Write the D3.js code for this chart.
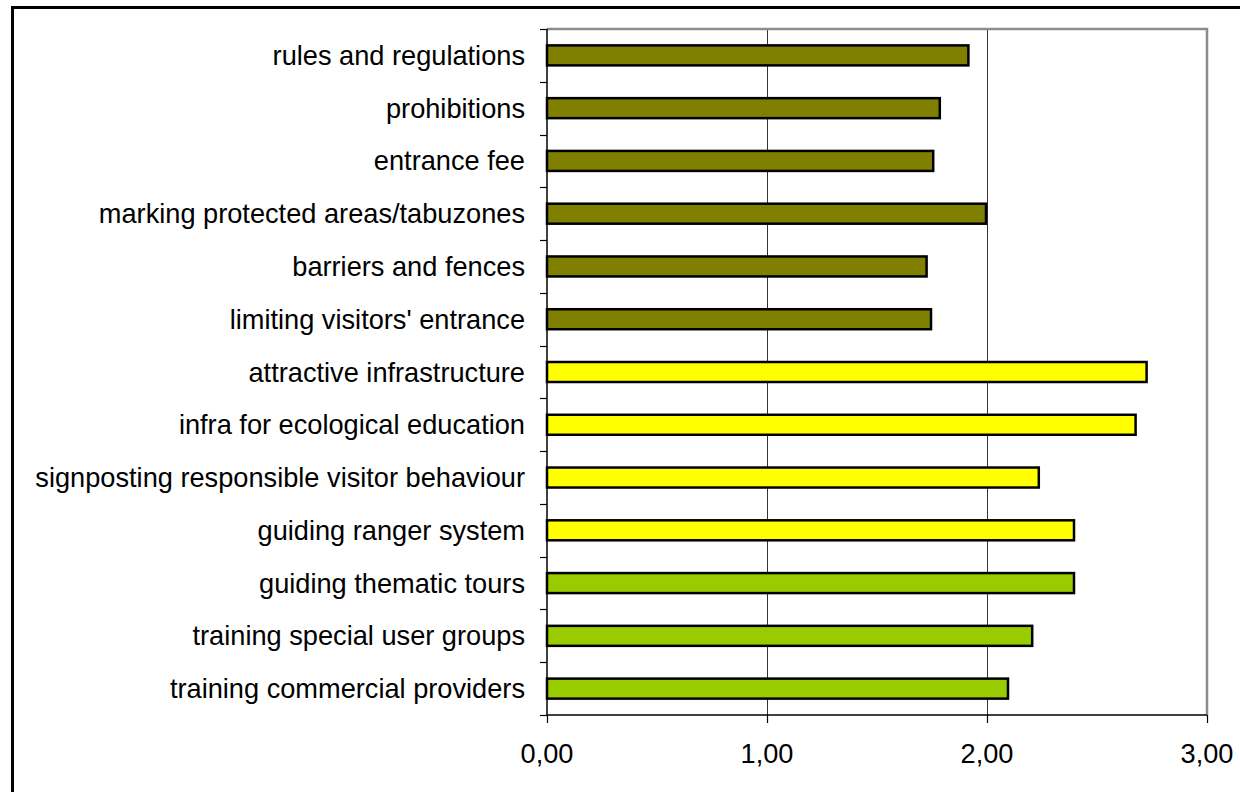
<!DOCTYPE html>
<html>
<head>
<meta charset="utf-8">
<script src="https://cdn.jsdelivr.net/npm/d3@7"></script>
<style>
  html, body { margin: 0; padding: 0; background: #fff; overflow: hidden; }
  svg { display: block; font-family: "Liberation Sans", Arial, sans-serif; }
</style>
</head>
<body>
<svg id="chart" width="1240" height="792"></svg>
<script>
// ---- data ----
const categories = [
  "rules and regulations",
  "prohibitions",
  "entrance fee",
  "marking protected areas/tabuzones",
  "barriers and fences",
  "limiting visitors' entrance",
  "attractive infrastructure",
  "infra for ecological education",
  "signposting responsible visitor behaviour",
  "guiding ranger system",
  "guiding thematic tours",
  "training special user groups",
  "training commercial providers"
];
const values = [1.92, 1.79, 1.76, 2.00, 1.73, 1.75, 2.73, 2.68, 2.24, 2.40, 2.40, 2.21, 2.10];
const groups = ["restriction","restriction","restriction","restriction","restriction","restriction",
  "infrastructure","infrastructure","infrastructure","infrastructure",
  "education","education","education"];
const groupNames = ["restriction", "infrastructure", "education"];
const xTicks = [0, 1, 2, 3];

// ---- layout ----
const svg = d3.select("#chart");
const pLeft = 547, pRight = 1207, pTop = 29, pBottom = 715;

const x = d3.scaleLinear().domain([0, 3]).range([pLeft, pRight]);
const y = d3.scaleBand().domain(categories).range([pTop, pBottom]).paddingInner(0).paddingOuter(0);
const color = d3.scaleOrdinal().domain(groupNames).range(["#808000", "#FFFF00", "#99CC00"]);
const fmt = v => d3.format(".2f")(v).replace(".", ",");

// outer border
svg.append("rect")
  .attr("x", 12.5).attr("y", 7.5)
  .attr("width", 1260).attr("height", 820)
  .attr("fill", "none").attr("stroke", "#000").attr("stroke-width", 3);

// gridlines
svg.append("g").selectAll("line")
  .data(xTicks.filter(d => d > 0 && d < 3))
  .join("line")
  .attr("x1", d => Math.round(x(d)) + 0.5).attr("x2", d => Math.round(x(d)) + 0.5)
  .attr("y1", pTop).attr("y2", pBottom)
  .attr("stroke", "#333").attr("stroke-width", 1);

// plot frame top/right (gray)
svg.append("path")
  .attr("d", `M${pLeft},${pTop} H${pRight} V${pBottom}`)
  .attr("fill", "none").attr("stroke", "#8c8c8c").attr("stroke-width", 2.5);

// bars
const bh = 20;
svg.append("g").selectAll("rect")
  .data(categories.map((c, i) => ({c, v: values[i], g: groups[i]})))
  .join("rect")
  .attr("x", x(0))
  .attr("y", d => y(d.c) + y.bandwidth() / 2 - bh / 2)
  .attr("width", d => x(d.v) - x(0) - 1)
  .attr("height", bh)
  .attr("fill", d => color(d.g))
  .attr("stroke", "#000").attr("stroke-width", 2.5);

// y axis
const yAxis = svg.append("g").attr("transform", `translate(${pLeft},0)`);
yAxis.append("line").attr("x1", 0).attr("x2", 0).attr("y1", pTop).attr("y2", pBottom)
  .attr("stroke", "#000").attr("stroke-width", 1.5);
const bounds = categories.map(c => y(c)).concat([pBottom]);
yAxis.selectAll("line.tk").data(bounds).join("line").attr("class", "tk")
  .attr("x1", -7).attr("x2", 0)
  .attr("y1", d => Math.round(d) + 0.5).attr("y2", d => Math.round(d) + 0.5)
  .attr("stroke", "#000").attr("stroke-width", 1.2);
yAxis.selectAll("text").data(categories).join("text")
  .attr("x", -22)
  .attr("y", d => y(d) + y.bandwidth() / 2 + 9.5)
  .attr("text-anchor", "end")
  .attr("font-size", "27.2px")
  .attr("fill", "#000")
  .text(d => d);

// x axis
const xAxis = svg.append("g");
xAxis.append("line").attr("x1", pLeft).attr("x2", pRight).attr("y1", pBottom).attr("y2", pBottom)
  .attr("stroke", "#000").attr("stroke-width", 1.5);
xAxis.selectAll("line.tk").data(xTicks).join("line").attr("class", "tk")
  .attr("x1", d => Math.round(x(d)) + 0.5).attr("x2", d => Math.round(x(d)) + 0.5)
  .attr("y1", pBottom).attr("y2", pBottom + 8)
  .attr("stroke", "#000").attr("stroke-width", 1.2);
xAxis.selectAll("text").data(xTicks).join("text")
  .attr("x", d => x(d))
  .attr("y", 763)
  .attr("text-anchor", "middle")
  .attr("font-size", "27.2px")
  .attr("fill", "#000")
  .text(d => fmt(d));
</script>
</body>
</html>
